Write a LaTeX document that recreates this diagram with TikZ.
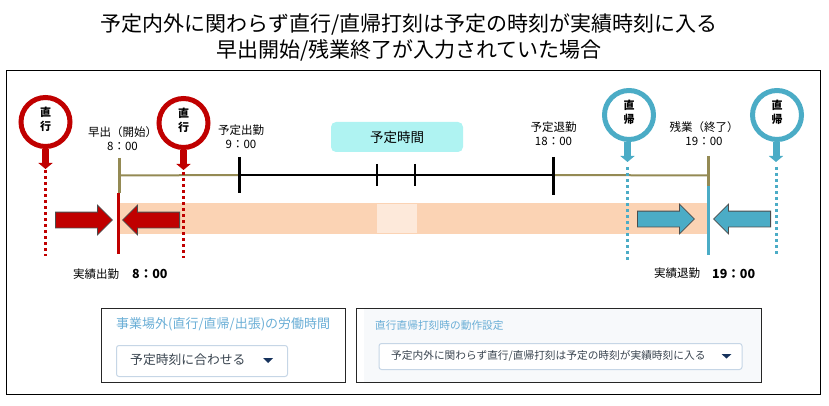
\documentclass[tikz,border=0pt]{standalone}
\usepackage{fontspec}
\setmainfont{Noto Sans CJK JP}
\usetikzlibrary{arrows.meta,shapes.arrows}
\definecolor{start color}{HTML}{C00000}
\definecolor{finish color}{HTML}{4BACC6}
\definecolor{overtime color}{HTML}{948A54}
\definecolor{band color}{HTML}{FBD3B4}
\definecolor{break color}{HTML}{FDE9DA}
\definecolor{planned color}{HTML}{AFF3F2}
\definecolor{setting color}{HTML}{6AAED6}
\definecolor{field color}{HTML}{C6D6E6}
\definecolor{field text color}{HTML}{3A4550}
\definecolor{caret color}{HTML}{16325C}
\definecolor{panel color}{HTML}{F7F9FB}
\tikzset{
    x={1pt},
    y={-1pt},
    stamp/.style={
        circle, draw={#1}, fill=white,
        line width={5pt},
        minimum size={49},
        inner sep=0pt,
        align=center,
        text depth={5.5pt},
        font={\fontsize{11}{14}\selectfont\bfseries},
    },
    stamp stem/.style={
        draw={#1},
        line width={7pt},
        -{Triangle[length=6pt,width=14pt,fill={#1}]},
    },
    stamp line/.style={
        draw={#1},
        line width={3pt},
        dash pattern=on 3pt off 3pt,
    },
    bar/.style={
        draw={#1},
        line width={3pt},
    },
    time label/.style={
        align=center,
        inner sep=0pt,
        font={\fontsize{11.5}{14}\selectfont},
    },
    result label/.style={
        anchor=west,
        inner sep=0pt,
        font={\fontsize{11.5}{14}\selectfont},
    },
    result time/.style={
        result label,
        font={\fontsize{12.5}{14}\selectfont\bfseries},
    },
    block arrow/.style 2 args={
        single arrow, draw={black!70}, fill={#1},
        line width={0.8pt},
        shape border rotate={#2},
        anchor=tail,
        minimum height={57},
        single arrow head extend={7},
        single arrow head indent=0pt,
        inner xsep=0pt,
        inner ysep={7.5},
    },
    planned box/.style={
        fill=planned color, rounded corners={5pt},
        minimum width={132},
        minimum height={30},
        inner sep=0pt,
        font={\fontsize{13.5}{16}\selectfont},
    },
    setting box/.style={
        draw={black!85},
        line width={1pt},
        anchor=north west,
        inner sep=0pt,
    },
    setting title/.style={
        anchor=west,
        inner sep=0pt,
        text=setting color,
    },
    field/.style={
        draw=field color, fill=white, rounded corners={2.5pt},
        line width={1pt},
        anchor=north west,
        inner sep=0pt,
    },
    field text/.style={
        anchor=west,
        inner sep=0pt,
        text=field text color,
    },
    caret/.style={
        fill=caret color,
    },
}

\begin{document}
\begin{tikzpicture}
\useasboundingbox (0,0) rectangle (829,406);
% title
\node[align=center, inner sep=0pt, font={\fontsize{21}{26}\selectfont}] (title) at (409,37) {予定内外に関わらず直行/直帰打刻は予定の時刻が実績時刻に入る\\早出開始/残業終了が入力されていた場合};
% frame
\node[draw=black, line width={1pt}, anchor=north west, minimum width={814}, minimum height={324}, inner sep=0pt] (frame) at (6,70) {};
% band
\node[fill=band color, anchor=north west, minimum width={588}, minimum height={31}, inner sep=0pt] (band) at (120,203) {};
\node[fill=break color, anchor=north west, minimum width={40}, minimum height={29}, inner sep=0pt] (break) at (377,204) {};
% time line
\coordinate (early) at (119,175.5);
\coordinate (planned in) at (239.5,175);
\coordinate (break in) at (377,175);
\coordinate (break out) at (415,175);
\coordinate (planned out) at (553,175);
\coordinate (overtime) at (708,175.5);
\draw[bar={overtime color}, line width={2pt}] (early) -- (planned in);
\draw[bar={black}, line width={2.5pt}] (planned in) -- (planned out);
\draw[bar={overtime color}, line width={2pt}] (planned out) -- (overtime);
\draw[bar={black}] (planned in) ++(0,-18) -- ++(0,36);
\draw[bar={black}, line width={2pt}] (break in) ++(0,-11) -- ++(0,22);
\draw[bar={black}, line width={2pt}] (break out) ++(0,-11) -- ++(0,22);
\draw[bar={black}] (planned out) ++(0,-18) -- ++(0,38);
\draw[bar={overtime color}] (early) ++(0,-17.5) -- ++(0,35);
\draw[bar={start color}] (118,193) -- (118,254);
\draw[bar={overtime color}] (overtime) ++(0,-19.5) -- ++(0,30);
\draw[bar={finish color}] (708,186) -- (708,255);
% labels
\node[time label] (early label) at (122.5,139) {早出（開始）\\8：00};
\node[time label] (planned in label) at (241,136.5) {予定出勤\\9：00};
\node[planned box] (planned) at (397,137) {予定時間};
\node[time label] (planned out label) at (553.5,134) {予定退勤\\18：00};
\node[time label] (overtime label) at (704,134) {残業（終了）\\19：00};
\node[result label] (result in) at (73,274) {実績出勤};
\node[result time] (result in time) at (132,274) {8：00};
\node[result label] (result out) at (654,273.5) {実績退勤};
\node[result time] (result out time) at (712,273.5) {19：00};
% stamps
\node[stamp={start color}] (stamp a) at (45.5,122) {直\\行};
\node[stamp={start color}] (stamp b) at (183.5,123) {直\\行};
\node[stamp={finish color}] (stamp c) at (629,115) {直\\帰};
\node[stamp={finish color}] (stamp d) at (777,115) {直\\帰};
\coordinate (tip a) at (45.5,169);
\coordinate (tip b) at (183.5,170);
\coordinate (tip c) at (627.5,162);
\coordinate (tip d) at (776,162);
\coordinate (end a) at (45.5,256);
\coordinate (end b) at (183.5,258);
\coordinate (end c) at (627.5,260);
\coordinate (end d) at (776,256);
\draw[stamp stem={start color}] (stamp a) -- (tip a);
\draw[stamp stem={start color}] (stamp b) -- (tip b);
\draw[stamp stem={finish color}] (stamp c.south -| tip c) -- (tip c);
\draw[stamp stem={finish color}] (stamp d.south -| tip d) -- (tip d);
\draw[stamp line={start color}] (tip a) ++(0,1) -- (end a);
\draw[stamp line={start color}] (tip b) ++(0,2) -- (end b);
\draw[stamp line={finish color}] (tip c) ++(0,5) -- (end c);
\draw[stamp line={finish color}] (tip d) ++(0,5) -- (end d);
% arrows
\node[block arrow={start color}{0}] (arrow a) at (55,220) {};
\node[block arrow={start color}{180}] (arrow b) at (180,220) {};
\node[block arrow={finish color}{0}] (arrow c) at (637,219) {};
\node[block arrow={finish color}{180}] (arrow d) at (771,219) {};
% settings
\node[setting box, minimum width={244}, minimum height={74}] (setting a) at (101,308) {};
\node[setting title, font={\fontsize{13}{15}\selectfont}] (setting a title) at (116,324) {事業場外(直行/直帰/出張)の労働時間};
\node[field, minimum width={171}, minimum height={31}] (field a) at (116,345) {};
\node[field text, font={\fontsize{12.8}{15}\selectfont}] (field a text) at (130,360) {予定時刻に合わせる};
\fill[caret] (263,358) -- (273,358) -- (268,363) -- cycle;
\node[setting box, draw=none, fill=panel color, minimum width={398}, minimum height={74}] (setting b fill) at (363,308) {};
\node[setting box, minimum width={405}, minimum height={74}] (setting b) at (356,308) {};
\node[setting title, font={\fontsize{10.7}{13}\selectfont}] (setting b title) at (375,325) {直行直帰打刻時の動作設定};
\node[field, minimum width={363}, minimum height={26}] (field b) at (378.5,343) {};
\node[field text, font={\fontsize{10.7}{13}\selectfont}] (field b text) at (391,355.5) {予定内外に関わらず直行/直帰打刻は予定の時刻が実績時刻に入る};
\fill[caret] (721.5,354) -- (731.5,354) -- (726.5,358.5) -- cycle;
\end{tikzpicture}
\end{document}
